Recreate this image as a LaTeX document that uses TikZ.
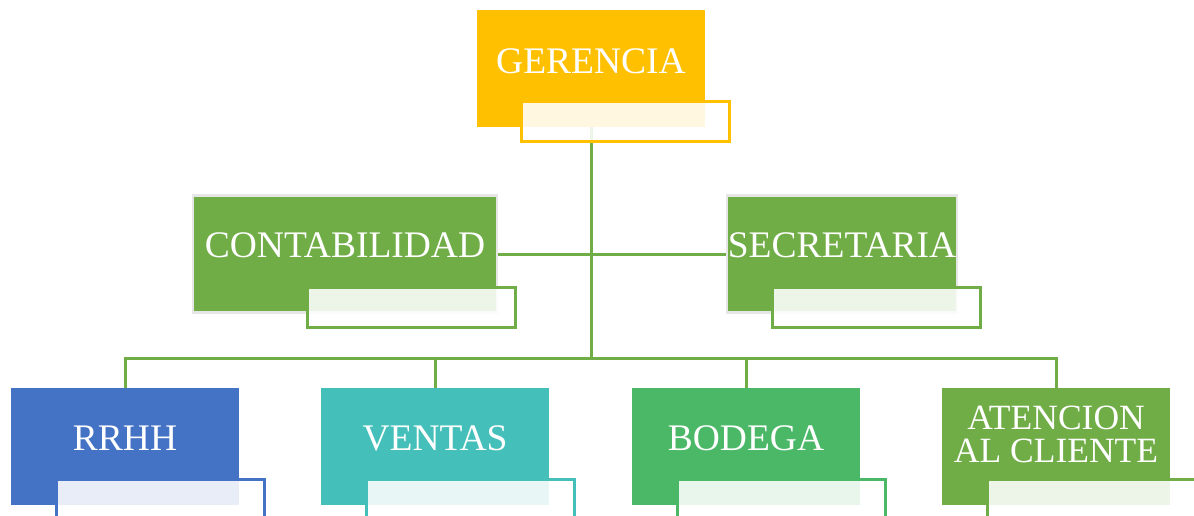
\documentclass[tikz,border=0pt]{standalone}
\usepackage{fontspec}
\setmainfont{Liberation Serif}
\definecolor{cgold}{HTML}{FFC000}
\definecolor{cgreen}{HTML}{70AD47}
\definecolor{cblue}{HTML}{4472C4}
\definecolor{cteal}{HTML}{45BFBA}
\definecolor{cbod}{HTML}{4AB866}
\definecolor{cedge}{HTML}{E7E6E6}
\begin{document}
\begin{tikzpicture}[x=1pt,y=-1pt,
  box/.style={rectangle,inner sep=0pt,minimum width=228pt,minimum height=117pt},
  lbl/.style={text=white,font=\fontsize{37.5}{32}\selectfont,inner sep=0pt,align=center},
  sub/.style={rectangle,inner sep=0pt,minimum width=208pt,minimum height=40pt,
    fill=white,fill opacity=0.88,line width=2.6pt},
  conn/.style={draw=cgreen,line width=3pt}]
\clip (0,0) rectangle (1194,516);
\useasboundingbox (0,0) rectangle (1194,516);
% boxes
\node[box,fill=cgold] (g) at (591,68.5) {};
\node[box,fill=cgreen,draw=cedge,line width=2.5pt,minimum width=304pt] (c) at (345,254) {};
\node[box,fill=cgreen,draw=cedge,line width=2.5pt,minimum width=230pt] (s) at (842,254) {};
\node[box,fill=cblue] (r) at (125,446.5) {};
\node[box,fill=cteal] (v) at (435,446.5) {};
\node[box,fill=cbod] (b) at (746,446.5) {};
\node[box,fill=cgreen] (a) at (1056,446.5) {};
% connectors
\coordinate (bus) at (591,358);
\draw[conn] (g.south) -- (bus);
\draw[conn] (c.east) -- (s.west);
\draw[conn] (r.north) -- (r.north |- bus) -- (a.north |- bus) -- (a.north);
\draw[conn] (v.north) -- (v.north |- bus);
\draw[conn] (b.north) -- (b.north |- bus);
% labels
\node[lbl] (gt) at ([yshift=7.5pt]g.center) {GERENCIA};
\node[lbl] (ct) at ([yshift=9pt]c.center) {CONTABILIDAD};
\node[lbl] (st) at ([yshift=9pt]s.center) {SECRETARIA};
\node[lbl] (rt) at ([yshift=8.5pt]r.center) {RRHH};
\node[lbl] (vt) at ([yshift=8.5pt]v.center) {VENTAS};
\node[lbl] (bt) at ([yshift=8.5pt]b.center) {BODEGA};
\node[lbl,font=\fontsize{35.5}{33}\selectfont] (at) at ([yshift=12pt]a.center) {ATENCION\\AL CLIENTE};
% overlay sub-boxes
\node[sub,draw=cgold] (gs) at (625.5,121.5) {};
\node[sub,draw=cgreen] (cs) at (411.5,307.5) {};
\node[sub,draw=cgreen] (ss) at (876.5,307.5) {};
\node[sub,draw=cblue] (rs) at (160.5,499.5) {};
\node[sub,draw=cteal] (vs) at (470.5,499.5) {};
\node[sub,draw=cbod] (bs) at (781.5,499.5) {};
\node[sub,draw=cgreen] (as) at (1091.5,499.5) {};
\end{tikzpicture}
\end{document}
